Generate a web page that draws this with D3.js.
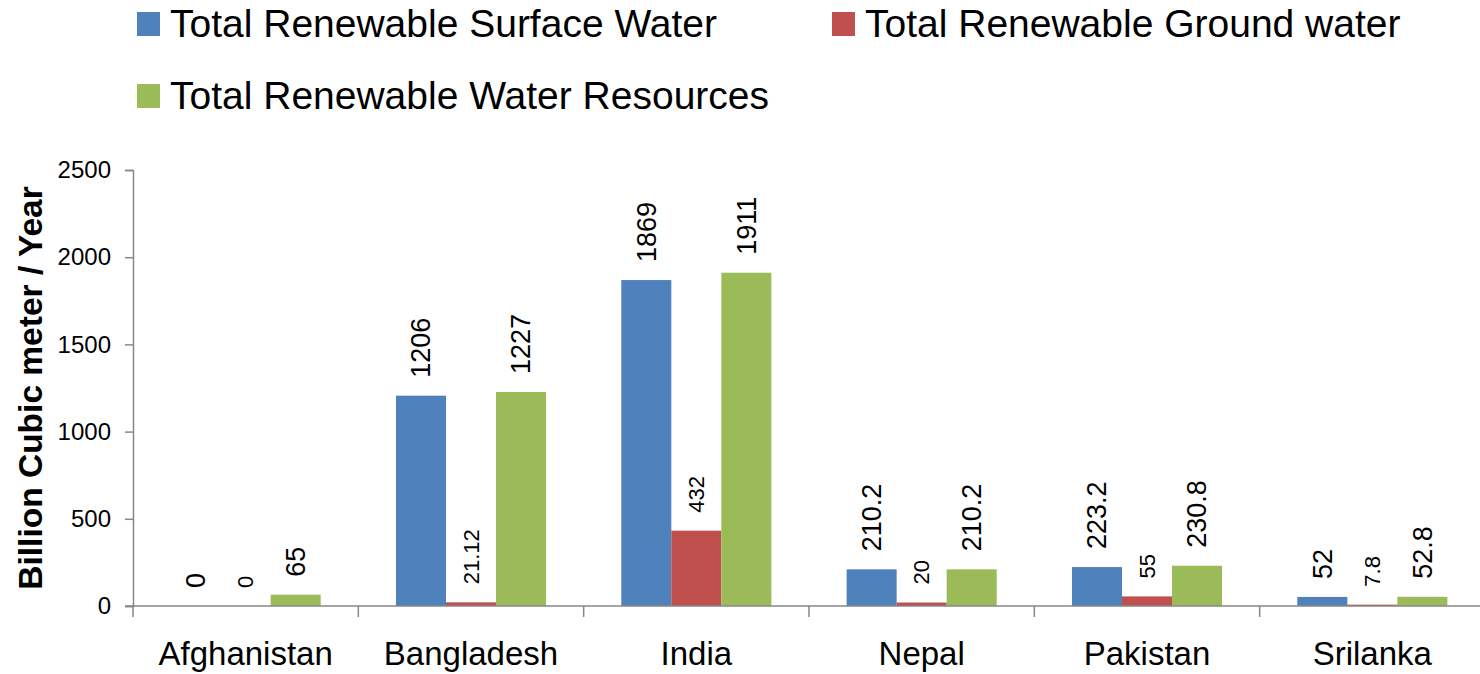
<!DOCTYPE html>
<html>
<head>
<meta charset="utf-8">
<script src="https://cdn.jsdelivr.net/npm/d3@7"></script>
<style>
  html, body { margin: 0; padding: 0; background: #fff; }
  svg { display: block; font-family: "Liberation Sans", Arial, sans-serif; }
</style>
</head>
<body>
<svg id="chart" width="1480" height="674"></svg>
<script>
// Renewable water resources by country (billion cubic metres per year)
const countries = ["Afghanistan", "Bangladesh", "India", "Nepal", "Pakistan", "Srilanka"];
const seriesNames = [
  "Total Renewable Surface Water",
  "Total Renewable Ground water",
  "Total Renewable Water Resources"
];
const surfaceWater = [0, 1206, 1869, 210.2, 223.2, 52];
const groundWater = [0, 21.12, 432, 20, 55, 7.8];
const totalWater = [65, 1227, 1911, 210.2, 230.8, 52.8];
const surfaceLabels = ["0", "1206", "1869", "210.2", "223.2", "52"];
const groundLabels = ["0", "21.12", "432", "20", "55", "7.8"];
const totalLabels = ["65", "1227", "1911", "210.2", "230.8", "52.8"];
const yTicks = [0, 500, 1000, 1500, 2000, 2500];
const colors = ["#4F81BD", "#C0504D", "#9BBB59"];

const seriesValues = [surfaceWater, groundWater, totalWater];
const seriesLabels = [surfaceLabels, groundLabels, totalLabels];

const svg = d3.select("#chart");
const plot = { left: 133, right: 1485, top: 170, bottom: 606 };

const x = d3.scaleBand().domain(countries).range([plot.left, plot.right]);
const groupWidth = x.bandwidth() * 0.666;
const x1 = d3.scaleBand().domain(d3.range(seriesNames.length))
  .range([(x.bandwidth() - groupWidth) / 2, (x.bandwidth() + groupWidth) / 2]);
const y = d3.scaleLinear().domain([0, 2500]).range([plot.bottom, plot.top]);

const axisColor = "#878787";

// Bars
seriesValues.forEach((vals, si) => {
  svg.append("g").selectAll("rect")
    .data(countries)
    .join("rect")
    .attr("x", c => x(c) + x1(si))
    .attr("width", x1.bandwidth())
    .attr("y", (c, i) => y(vals[i]))
    .attr("height", (c, i) => y(0) - y(vals[i]))
    .attr("fill", colors[si]);
});

// Y axis
const yAxis = svg.append("g")
  .attr("transform", `translate(${plot.left},0)`)
  .call(d3.axisLeft(y).tickValues(yTicks).tickSize(8).tickPadding(14).tickFormat(d3.format("d")));
yAxis.select(".domain").attr("stroke", axisColor).attr("stroke-width", 1.5);
yAxis.selectAll(".tick line").attr("stroke", axisColor).attr("stroke-width", 1.5);
yAxis.selectAll(".tick text")
  .attr("fill", "#000")
  .style("font-size", "24px");

// X axis with ticks at band boundaries
const xg = svg.append("g").attr("transform", `translate(0,${plot.bottom})`);
xg.append("line")
  .attr("x1", plot.left - 8).attr("x2", plot.right)
  .attr("stroke", axisColor).attr("stroke-width", 1.5);
xg.selectAll("line.sep")
  .data(countries)
  .join("line")
  .attr("class", "sep")
  .attr("x1", c => x(c)).attr("x2", c => x(c))
  .attr("y1", 0).attr("y2", 11)
  .attr("stroke", axisColor).attr("stroke-width", 1.5);
xg.selectAll("text")
  .data(countries)
  .join("text")
  .attr("x", c => x(c) + x.bandwidth() / 2)
  .attr("y", 59)
  .attr("text-anchor", "middle")
  .style("font-size", "33px")
  .text(c => c);

// Value labels, rotated above each bar
const labelSize = ["27px", "22px", "27px"];
seriesValues.forEach((vals, si) => {
  svg.append("g").selectAll("text")
    .data(countries)
    .join("text")
    .attr("transform", (c, i) => {
      const cx = x(c) + x1(si) + x1.bandwidth() / 2;
      return `translate(${cx},${y(vals[i]) - 18}) rotate(-90)`;
    })
    .attr("dy", "0.35em")
    .attr("text-anchor", "start")
    .style("font-size", labelSize[si])
    .text((c, i) => seriesLabels[si][i]);
});

// Y axis title
svg.append("text")
  .attr("transform", "translate(42,388) rotate(-90)")
  .attr("text-anchor", "middle")
  .style("font-size", "33.5px")
  .style("font-weight", "bold")
  .text("Billion Cubic meter / Year");

// Legend
const legendPos = [
  { x: 137, y: 12 },
  { x: 832, y: 12 },
  { x: 137, y: 84 }
];
const legend = svg.append("g").selectAll("g")
  .data(seriesNames)
  .join("g")
  .attr("transform", (d, i) => `translate(${legendPos[i].x},${legendPos[i].y})`);
legend.append("rect")
  .attr("width", 23).attr("height", 24)
  .attr("fill", (d, i) => colors[i]);
legend.append("text")
  .attr("x", 33).attr("y", 25)
  .style("font-size", "39px")
  .text(d => d);
</script>
</body>
</html>
